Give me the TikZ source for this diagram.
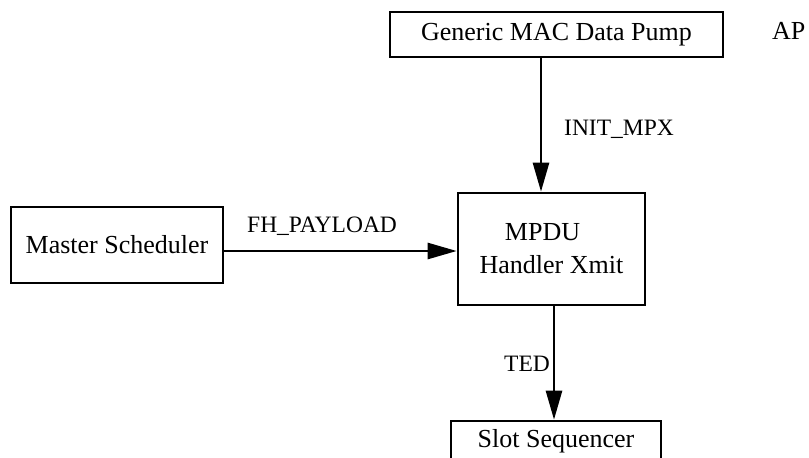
\documentclass[tikz,border=0pt]{standalone}
\usepackage{fontspec}
\setmainfont{Liberation Serif}
\usetikzlibrary{arrows.meta}
\tikzset{
  block/.style={draw, line width=2.6pt, rectangle, inner sep=0pt,
    font=\fontsize{26}{33}\selectfont, align=center},
  sig/.style={line width=2.6pt, -{Triangle[length=29pt,width=16pt]}},
  siglabel/.style={font=\fontsize{23.5}{28}\selectfont, inner sep=0pt, anchor=base west},
}
\begin{document}
\begin{tikzpicture}[x=1pt,y=-1pt]
  \useasboundingbox (0,0) rectangle (809,458);
  \clip (0,0) rectangle (809,458);

  % blocks
  \node[block, minimum width=333pt, minimum height=45pt] (pump) at (556.5,34.5) {Generic MAC Data Pump};
  \node[block, minimum width=212pt, minimum height=76pt] (master) at (117,245) {Master Scheduler};
  \node[block, minimum width=187pt, minimum height=112pt] (mpdu) at (551.5,249) {MPDU\hspace*{18pt}\\Handler Xmit};
  \node[block, minimum width=210pt, minimum height=40pt] (slot) at (556,441) {Slot Sequencer};

  % side tag
  \node[font=\fontsize{26}{30}\selectfont, inner sep=0pt, anchor=base west] (ap) at (772,39) {AP};

  % signals
  \draw[sig] ([xshift=-15.5pt]pump.south) -- ([xshift=-10.5pt]mpdu.north);
  \draw[sig] (master.east |- 0,251) -- (mpdu.west |- 0,251);
  \draw[sig] ([xshift=2.5pt]mpdu.south) -- ([xshift=-2pt]slot.north);

  % signal names
  \node[siglabel] (initmpx) at (564,135) {INIT\_MPX};
  \node[siglabel] (fhpay) at (247,232) {FH\_PAYLOAD};
  \node[siglabel] (ted) at (504,371) {TED};
\end{tikzpicture}
\end{document}
